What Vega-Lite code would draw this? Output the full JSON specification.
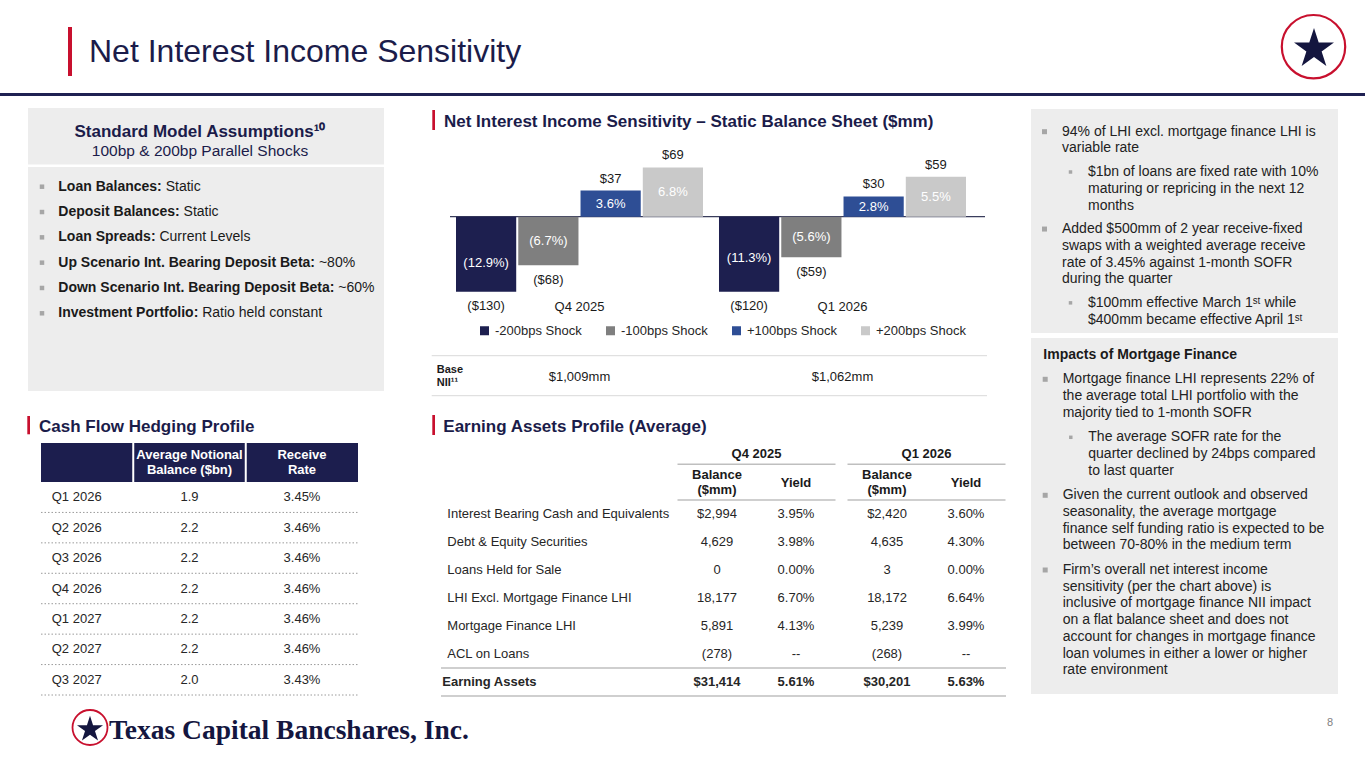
{
  "$schema": "https://vega.github.io/schema/vega-lite/v6.json",
  "width": 1365,
  "height": 768,
  "autosize": {"type": "none"},
  "padding": 0,
  "background": "#ffffff",
  "config": {"view": {"stroke": null}, "font": "Liberation Sans"},
  "datasets": {
    "bars": [
      {"quarter": "Q4 2025", "shock": "-200bps Shock", "nii": -130, "pct": -0.129},
      {"quarter": "Q4 2025", "shock": "-100bps Shock", "nii": -68, "pct": -0.067},
      {"quarter": "Q4 2025", "shock": "+100bps Shock", "nii": 37, "pct": 0.036},
      {"quarter": "Q4 2025", "shock": "+200bps Shock", "nii": 69, "pct": 0.068},
      {"quarter": "Q1 2026", "shock": "-200bps Shock", "nii": -120, "pct": -0.113},
      {"quarter": "Q1 2026", "shock": "-100bps Shock", "nii": -59, "pct": -0.056},
      {"quarter": "Q1 2026", "shock": "+100bps Shock", "nii": 30, "pct": 0.028},
      {"quarter": "Q1 2026", "shock": "+200bps Shock", "nii": 59, "pct": 0.055}
    ],
    "baseNII": [
      {"quarter": "Q4 2025", "base": 1009},
      {"quarter": "Q1 2026", "base": 1062}
    ],
    "cashflow": [
      {"quarter": "Q1 2026", "notional": 1.9, "rate": 0.0345},
      {"quarter": "Q2 2026", "notional": 2.2, "rate": 0.0346},
      {"quarter": "Q3 2026", "notional": 2.2, "rate": 0.0346},
      {"quarter": "Q4 2026", "notional": 2.2, "rate": 0.0346},
      {"quarter": "Q1 2027", "notional": 2.2, "rate": 0.0346},
      {"quarter": "Q2 2027", "notional": 2.2, "rate": 0.0346},
      {"quarter": "Q3 2027", "notional": 2.0, "rate": 0.0343}
    ],
    "cfHeader": [
      {"col": "Average Notional Balance ($bn)", "lines": ["Average Notional", "Balance ($bn)"]},
      {"col": "Receive Rate", "lines": ["Receive", "Rate"]}
    ],
    "earning": [
      {"item": "Interest Bearing Cash and Equivalents", "quarter": "Q4 2025", "balance": 2994, "yield": 0.0395},
      {"item": "Debt & Equity Securities", "quarter": "Q4 2025", "balance": 4629, "yield": 0.0398},
      {"item": "Loans Held for Sale", "quarter": "Q4 2025", "balance": 0, "yield": 0.0},
      {"item": "LHI Excl. Mortgage Finance LHI", "quarter": "Q4 2025", "balance": 18177, "yield": 0.067},
      {"item": "Mortgage Finance LHI", "quarter": "Q4 2025", "balance": 5891, "yield": 0.0413},
      {"item": "ACL on Loans", "quarter": "Q4 2025", "balance": -278, "yield": null},
      {"item": "Earning Assets", "quarter": "Q4 2025", "balance": 31414, "yield": 0.0561},
      {"item": "Interest Bearing Cash and Equivalents", "quarter": "Q1 2026", "balance": 2420, "yield": 0.036},
      {"item": "Debt & Equity Securities", "quarter": "Q1 2026", "balance": 4635, "yield": 0.043},
      {"item": "Loans Held for Sale", "quarter": "Q1 2026", "balance": 3, "yield": 0.0},
      {"item": "LHI Excl. Mortgage Finance LHI", "quarter": "Q1 2026", "balance": 18172, "yield": 0.0664},
      {"item": "Mortgage Finance LHI", "quarter": "Q1 2026", "balance": 5239, "yield": 0.0399},
      {"item": "ACL on Loans", "quarter": "Q1 2026", "balance": -268, "yield": null},
      {"item": "Earning Assets", "quarter": "Q1 2026", "balance": 30201, "yield": 0.0563}
    ],
    "assumptions": [
      {"label": "Loan Balances:", "value": "Static"},
      {"label": "Deposit Balances:", "value": "Static"},
      {"label": "Loan Spreads:", "value": "Current Levels"},
      {"label": "Up Scenario Int. Bearing Deposit Beta:", "value": "~80%"},
      {"label": "Down Scenario Int. Bearing Deposit Beta:", "value": "~60%"},
      {"label": "Investment Portfolio:", "value": "Ratio held constant"}
    ],
    "notes": [
      {"panel": "top", "line": 0, "para": 0, "level": 0, "text": "94% of LHI excl. mortgage finance LHI is"},
      {"panel": "top", "line": 1, "para": 0, "level": 0, "text": "variable rate"},
      {"panel": "top", "line": 2, "para": 1, "level": 1, "text": "$1bn of loans are fixed rate with 10%"},
      {"panel": "top", "line": 3, "para": 1, "level": 1, "text": "maturing or repricing in the next 12"},
      {"panel": "top", "line": 4, "para": 1, "level": 1, "text": "months"},
      {"panel": "top", "line": 5, "para": 2, "level": 0, "text": "Added $500mm of 2 year receive-fixed"},
      {"panel": "top", "line": 6, "para": 2, "level": 0, "text": "swaps with a weighted average receive"},
      {"panel": "top", "line": 7, "para": 2, "level": 0, "text": "rate of 3.45% against 1-month SOFR"},
      {"panel": "top", "line": 8, "para": 2, "level": 0, "text": "during the quarter"},
      {"panel": "top", "line": 9, "para": 3, "level": 1, "text": "$100mm effective March 1ˢᵗ while"},
      {"panel": "top", "line": 10, "para": 3, "level": 1, "text": "$400mm became effective April 1ˢᵗ"},
      {"panel": "bottom", "line": 0, "para": 0, "level": 0, "text": "Mortgage finance LHI represents 22% of"},
      {"panel": "bottom", "line": 1, "para": 0, "level": 0, "text": "the average total LHI portfolio with the"},
      {"panel": "bottom", "line": 2, "para": 0, "level": 0, "text": "majority tied to 1-month SOFR"},
      {"panel": "bottom", "line": 3, "para": 1, "level": 1, "text": "The average SOFR rate for the"},
      {"panel": "bottom", "line": 4, "para": 1, "level": 1, "text": "quarter declined by 24bps compared"},
      {"panel": "bottom", "line": 5, "para": 1, "level": 1, "text": "to last quarter"},
      {"panel": "bottom", "line": 6, "para": 2, "level": 0, "text": "Given the current outlook and observed"},
      {"panel": "bottom", "line": 7, "para": 2, "level": 0, "text": "seasonality, the average mortgage"},
      {"panel": "bottom", "line": 8, "para": 2, "level": 0, "text": "finance self funding ratio is expected to be"},
      {"panel": "bottom", "line": 9, "para": 2, "level": 0, "text": "between 70-80% in the medium term"},
      {"panel": "bottom", "line": 10, "para": 3, "level": 0, "text": "Firm’s overall net interest income"},
      {"panel": "bottom", "line": 11, "para": 3, "level": 0, "text": "sensitivity (per the chart above) is"},
      {"panel": "bottom", "line": 12, "para": 3, "level": 0, "text": "inclusive of mortgage finance NII impact"},
      {"panel": "bottom", "line": 13, "para": 3, "level": 0, "text": "on a flat balance sheet and does not"},
      {"panel": "bottom", "line": 14, "para": 3, "level": 0, "text": "account for changes in mortgage finance"},
      {"panel": "bottom", "line": 15, "para": 3, "level": 0, "text": "loan volumes in either a lower or higher"},
      {"panel": "bottom", "line": 16, "para": 3, "level": 0, "text": "rate environment"}
    ]
  },
  "resolve": {"scale": {"x": "independent", "y": "independent", "xOffset": "independent", "yOffset": "independent", "color": "independent", "size": "independent"}},
  "layer": [
    {"data": {"values": [{}]}, "mark": {"type": "rect", "color": "#c8102e"}, "encoding": {"x": {"value": 68}, "x2": {"value": 72}, "y": {"value": 27}, "y2": {"value": 76}}},
    {"data": {"values": [{"t": "Net Interest Income Sensitivity"}]}, "mark": {"type": "text", "align": "left", "baseline": "alphabetic", "fontSize": 32, "color": "#1b1c4a"}, "encoding": {"text": {"field": "t"}, "x": {"value": 89}, "y": {"value": 62}}},
    {"data": {"values": [{}]}, "mark": {"type": "rect", "color": "#1f2152"}, "encoding": {"x": {"value": 0}, "x2": {"value": 1365}, "y": {"value": 93}, "y2": {"value": 96}}},
    {"data": {"values": [{}]}, "mark": {"type": "point", "shape": "circle", "filled": false, "stroke": "#c8102e", "strokeWidth": 2.2, "size": 4020, "opacity": 1}, "encoding": {"x": {"value": 1313.5}, "y": {"value": 46.7}}},
    {"data": {"values": [{}]}, "mark": {"type": "point", "shape": "M0,-1L0.2245,-0.309L0.951,-0.309L0.363,0.118L0.588,0.809L0,0.382L-0.588,0.809L-0.363,0.118L-0.951,-0.309L-0.2245,-0.309Z", "filled": true, "color": "#14163f", "size": 1764, "opacity": 1}, "encoding": {"x": {"value": 1314}, "y": {"value": 49}}},

    {"data": {"values": [{}]}, "mark": {"type": "rect", "color": "#ededed"}, "encoding": {"x": {"value": 28}, "x2": {"value": 384}, "y": {"value": 108}, "y2": {"value": 164.5}}},
    {"data": {"values": [{}]}, "mark": {"type": "rect", "color": "#ededed"}, "encoding": {"x": {"value": 28}, "x2": {"value": 384}, "y": {"value": 167}, "y2": {"value": 391}}},
    {"data": {"values": [{}]}, "mark": {"type": "rect", "color": "#ededed"}, "encoding": {"x": {"value": 1031}, "x2": {"value": 1338}, "y": {"value": 109}, "y2": {"value": 333}}},
    {"data": {"values": [{}]}, "mark": {"type": "rect", "color": "#ededed"}, "encoding": {"x": {"value": 1031}, "x2": {"value": 1338}, "y": {"value": 338}, "y2": {"value": 694}}},

    {"data": {"values": [{"t": "Standard Model Assumptions¹⁰"}]}, "mark": {"type": "text", "align": "center", "baseline": "alphabetic", "fontSize": 17, "fontWeight": "bold", "color": "#1b1c4a"}, "encoding": {"text": {"field": "t"}, "x": {"value": 200}, "y": {"value": 136.7}}},
    {"data": {"values": [{"t": "100bp & 200bp Parallel Shocks"}]}, "mark": {"type": "text", "align": "center", "baseline": "alphabetic", "fontSize": 15.5, "color": "#1b1c4a"}, "encoding": {"text": {"field": "t"}, "x": {"value": 200}, "y": {"value": 156}}},
    {
      "data": {"name": "assumptions"},
      "encoding": {"y": {"field": "label", "type": "nominal", "axis": null, "sort": null, "scale": {"type": "point", "domain": ["Loan Balances:", "Deposit Balances:", "Loan Spreads:", "Up Scenario Int. Bearing Deposit Beta:", "Down Scenario Int. Bearing Deposit Beta:", "Investment Portfolio:"], "range": [186.7, 313.3], "padding": 0}}},
      "layer": [
        {"mark": {"type": "point", "shape": "square", "filled": true, "color": "#a6a6a6", "size": 20, "opacity": 1}, "encoding": {"x": {"value": 42}}},
        {"mark": {"type": "text", "align": "left", "baseline": "middle", "fontSize": 14, "fontWeight": "bold", "color": "#1a1a1a"}, "encoding": {"x": {"value": 58.3}, "text": {"field": "label"}}},
        {"mark": {"type": "text", "align": "left", "baseline": "middle", "fontSize": 14, "color": "#1a1a1a",
          "dx": {"expr": "3.9 + 0.014*(611*length(datum.label) - 333*length(replace(datum.label, regexp('[^ ijlI.,]','g'), '')) - 278*length(replace(datum.label, regexp('[^tf:()-]','g'), '')) - 222*length(replace(datum.label, regexp('[^r]','g'), '')) - 55*length(replace(datum.label, regexp('[^acekvsxyzJ0-9~$]','g'), '')) + 56*length(replace(datum.label, regexp('[^EPSVXY]','g'), '')) + 111*length(replace(datum.label, regexp('[^ABCDHKNRU]','g'), '')) + 167*length(replace(datum.label, regexp('[^GOQw]','g'), '')) + 222*length(replace(datum.label, regexp('[^M]','g'), '')) + 278*length(replace(datum.label, regexp('[^m%]','g'), '')))"}},
          "encoding": {"x": {"value": 58.3}, "text": {"field": "value"}}}
      ]
    },

    {"data": {"values": [{}]}, "mark": {"type": "rect", "color": "#c8102e"}, "encoding": {"x": {"value": 432.3}, "x2": {"value": 435}, "y": {"value": 110}, "y2": {"value": 130}}},
    {"data": {"values": [{"t": "Net Interest Income Sensitivity – Static Balance Sheet ($mm)"}]}, "mark": {"type": "text", "align": "left", "baseline": "alphabetic", "fontSize": 17, "fontWeight": "bold", "color": "#1b1c4a"}, "encoding": {"text": {"field": "t"}, "x": {"value": 444}, "y": {"value": 126.7}}},
    {"data": {"values": [{}]}, "mark": {"type": "rect", "color": "#c8102e"}, "encoding": {"x": {"value": 27.3}, "x2": {"value": 30}, "y": {"value": 416}, "y2": {"value": 434.3}}},
    {"data": {"values": [{"t": "Cash Flow Hedging Profile"}]}, "mark": {"type": "text", "align": "left", "baseline": "alphabetic", "fontSize": 17, "fontWeight": "bold", "color": "#1b1c4a"}, "encoding": {"text": {"field": "t"}, "x": {"value": 39}, "y": {"value": 431.7}}},
    {"data": {"values": [{}]}, "mark": {"type": "rect", "color": "#c8102e"}, "encoding": {"x": {"value": 432.3}, "x2": {"value": 435}, "y": {"value": 415}, "y2": {"value": 435}}},
    {"data": {"values": [{"t": "Earning Assets Profile (Average)"}]}, "mark": {"type": "text", "align": "left", "baseline": "alphabetic", "fontSize": 17, "fontWeight": "bold", "color": "#1b1c4a"}, "encoding": {"text": {"field": "t"}, "x": {"value": 443.3}, "y": {"value": 431.7}}},

    {
      "data": {"name": "bars"},
      "encoding": {
        "x": {"field": "quarter", "type": "nominal", "axis": null, "sort": null, "scale": {"type": "band", "domain": ["Q4 2025", "Q1 2026"], "range": [456, 966], "paddingInner": 0.0608, "paddingOuter": 0}}
      },
      "layer": [
        {"data": {"values": [{}]}, "mark": {"type": "rule", "color": "#3a3d5c", "strokeWidth": 1.2}, "encoding": {"x": {"value": 450}, "x2": {"value": 985}, "y": {"value": 216.7}}},
        {
          "mark": {"type": "bar"},
          "encoding": {
            "xOffset": {"field": "shock", "type": "nominal", "sort": null, "scale": {"type": "band", "domain": ["-200bps Shock", "-100bps Shock", "+100bps Shock", "+200bps Shock"], "paddingInner": 0.033, "paddingOuter": 0}},
            "y": {"field": "pct", "type": "quantitative", "axis": null, "scale": {"domain": [-0.1035, 0.069], "range": [291.7, 166.7], "clamp": true, "nice": false, "zero": false}},
            "color": {"field": "shock", "type": "nominal", "sort": null, "scale": {"domain": ["-200bps Shock", "-100bps Shock", "+100bps Shock", "+200bps Shock"], "range": ["#1d1f4f", "#7f7f7f", "#2e4e95", "#c9c9c9"]},
              "legend": {"orient": "none", "legendX": 478, "legendY": 324, "direction": "horizontal", "title": null, "symbolType": "square", "symbolSize": 81, "symbolStrokeWidth": 0, "labelFontSize": 13, "labelColor": "#262626", "columnPadding": 22, "labelOffset": 4}}
          }
        },
        {
          "transform": [{"filter": "datum.nii > 0"}],
          "mark": {"type": "text", "baseline": "middle", "dy": -12, "fontSize": 13, "color": "#1a1a1a"},
          "encoding": {
            "xOffset": {"field": "shock", "type": "nominal", "sort": null, "scale": {"type": "band", "domain": ["-200bps Shock", "-100bps Shock", "+100bps Shock", "+200bps Shock"], "paddingInner": 0.033, "paddingOuter": 0}},
            "y": {"field": "pct", "type": "quantitative", "axis": null, "scale": {"domain": [-0.1035, 0.069], "range": [291.7, 166.7], "clamp": true, "nice": false, "zero": false}},
            "text": {"field": "nii", "type": "quantitative", "format": "($.0f"}
          }
        },
        {
          "transform": [{"filter": "datum.nii < 0"}],
          "mark": {"type": "text", "baseline": "middle", "dy": 14.5, "fontSize": 13, "color": "#1a1a1a"},
          "encoding": {
            "xOffset": {"field": "shock", "type": "nominal", "sort": null, "scale": {"type": "band", "domain": ["-200bps Shock", "-100bps Shock", "+100bps Shock", "+200bps Shock"], "paddingInner": 0.033, "paddingOuter": 0}},
            "y": {"field": "pct", "type": "quantitative", "axis": null, "scale": {"domain": [-0.1035, 0.069], "range": [291.7, 166.7], "clamp": true, "nice": false, "zero": false}},
            "text": {"field": "nii", "type": "quantitative", "format": "($.0f"}
          }
        },
        {
          "transform": [{"filter": "datum.shock == '-200bps Shock'"}],
          "mark": {"type": "text", "baseline": "middle", "dy": 15, "fontSize": 13, "color": "#1a1a1a"},
          "encoding": {
            "y": {"field": "pct", "type": "quantitative", "axis": null, "scale": {"domain": [-0.1035, 0.069], "range": [291.7, 166.7], "clamp": true, "nice": false, "zero": false}},
            "text": {"field": "quarter"}
          }
        }
      ]
    },
    {
      "data": {"name": "bars"},
      "mark": {"type": "text", "baseline": "middle", "fontSize": 13, "color": "#ffffff"},
      "encoding": {
        "x": {"field": "quarter", "type": "nominal", "axis": null, "sort": null, "scale": {"type": "band", "domain": ["Q4 2025", "Q1 2026"], "range": [456, 966], "paddingInner": 0.0608, "paddingOuter": 0}},
        "xOffset": {"field": "shock", "type": "nominal", "sort": null, "scale": {"type": "band", "domain": ["-200bps Shock", "-100bps Shock", "+100bps Shock", "+200bps Shock"], "paddingInner": 0.033, "paddingOuter": 0}},
        "y": {"field": "pct", "type": "quantitative", "axis": null, "scale": {"domain": [-0.207, 0.138], "range": [291.7, 166.7], "nice": false, "zero": false}},
        "text": {"field": "pct", "type": "quantitative", "format": "(.1%"}
      }
    },

    {"data": {"values": [{}]}, "mark": {"type": "rule", "color": "#d9d9d9", "strokeWidth": 1}, "encoding": {"x": {"value": 431.7}, "x2": {"value": 987}, "y": {"value": 355.7}}},
    {"data": {"values": [{}]}, "mark": {"type": "rule", "color": "#d9d9d9", "strokeWidth": 1}, "encoding": {"x": {"value": 431.7}, "x2": {"value": 987}, "y": {"value": 395.7}}},
    {"data": {"values": [{"t": ["Base", "NII¹¹"]}]}, "mark": {"type": "text", "align": "left", "baseline": "middle", "fontSize": 11, "fontWeight": "bold", "lineHeight": 12.7, "color": "#1a1a1a"}, "encoding": {"text": {"field": "t"}, "x": {"value": 436.7}, "y": {"value": 370}}},
    {
      "data": {"name": "baseNII"},
      "mark": {"type": "text", "baseline": "middle", "fontSize": 13, "color": "#1a1a1a", "text": {"expr": "format(datum.base, '$,') + 'mm'"}},
      "encoding": {
        "x": {"field": "quarter", "type": "nominal", "axis": null, "sort": null, "scale": {"type": "band", "domain": ["Q4 2025", "Q1 2026"], "range": [456, 966], "paddingInner": 0.0608, "paddingOuter": 0}},
        "y": {"value": 377}
      }
    },

    {"data": {"values": [{}]}, "mark": {"type": "rect", "color": "#1c1e4e"}, "encoding": {"x": {"value": 41}, "x2": {"value": 358}, "y": {"value": 443}, "y2": {"value": 482}}},
    {
      "data": {"name": "cfHeader"},
      "encoding": {"x": {"field": "col", "type": "nominal", "axis": null, "sort": null, "scale": {"type": "band", "domain": ["Quarter", "Average Notional Balance ($bn)", "Receive Rate"], "range": [20.75, 358.25], "paddingInner": 0, "paddingOuter": 0}}},
      "layer": [
        {"mark": {"type": "rule", "color": "#ffffff", "strokeWidth": 2}, "encoding": {"x": {"field": "col", "type": "nominal", "bandPosition": 0}, "y": {"value": 443}, "y2": {"value": 482}}},
        {"mark": {"type": "text", "baseline": "middle", "fontSize": 13, "fontWeight": "bold", "lineHeight": 15, "color": "#ffffff"}, "encoding": {"text": {"field": "lines"}, "y": {"value": 455}}}
      ]
    },
    {
      "data": {"name": "cashflow"},
      "encoding": {"y": {"field": "quarter", "type": "nominal", "axis": null, "sort": null, "scale": {"type": "band", "domain": ["Q1 2026", "Q2 2026", "Q3 2026", "Q4 2026", "Q1 2027", "Q2 2027", "Q3 2027"], "range": [482, 695], "paddingInner": 0, "paddingOuter": 0}}},
      "layer": [
        {"mark": {"type": "rule", "color": "#9a9a9a", "strokeWidth": 1, "strokeDash": [1.5, 2]}, "encoding": {"y": {"field": "quarter", "type": "nominal", "bandPosition": 1}, "x": {"value": 41}, "x2": {"value": 358}}},
        {"mark": {"type": "text", "align": "left", "baseline": "middle", "fontSize": 13, "color": "#262626", "dx": 31},
          "encoding": {"x": {"datum": "Quarter", "type": "nominal", "bandPosition": 0, "axis": null, "scale": {"type": "band", "domain": ["Quarter", "Average Notional Balance ($bn)", "Receive Rate"], "range": [20.75, 358.25], "paddingInner": 0, "paddingOuter": 0}}, "text": {"field": "quarter"}}},
        {"mark": {"type": "text", "baseline": "middle", "fontSize": 13, "color": "#262626"},
          "encoding": {"x": {"datum": "Average Notional Balance ($bn)", "type": "nominal", "axis": null, "scale": {"type": "band", "domain": ["Quarter", "Average Notional Balance ($bn)", "Receive Rate"], "range": [20.75, 358.25], "paddingInner": 0, "paddingOuter": 0}}, "text": {"field": "notional", "type": "quantitative", "format": ".1f"}}},
        {"mark": {"type": "text", "baseline": "middle", "fontSize": 13, "color": "#262626"},
          "encoding": {"x": {"datum": "Receive Rate", "type": "nominal", "axis": null, "scale": {"type": "band", "domain": ["Quarter", "Average Notional Balance ($bn)", "Receive Rate"], "range": [20.75, 358.25], "paddingInner": 0, "paddingOuter": 0}}, "text": {"field": "rate", "type": "quantitative", "format": ".2%"}}}
      ]
    },

    {
      "data": {"name": "earning"},
      "transform": [{"fold": ["balance", "yield"], "as": ["metric", "value"]}],
      "encoding": {
        "y": {"field": "item", "type": "nominal", "axis": null, "sort": null, "scale": {"type": "band", "domain": ["Interest Bearing Cash and Equivalents", "Debt & Equity Securities", "Loans Held for Sale", "LHI Excl. Mortgage Finance LHI", "Mortgage Finance LHI", "ACL on Loans", "Earning Assets"], "range": [500, 696], "paddingInner": 0, "paddingOuter": 0}},
        "x": {"field": "quarter", "type": "nominal", "axis": null, "sort": null, "scale": {"type": "band", "domain": ["Q4 2025", "Q1 2026"], "range": [677.5, 1005.5], "paddingInner": 0.0706, "paddingOuter": 0}}
      },
      "layer": [
        {"mark": {"type": "rule", "color": "#bfbfbf", "strokeWidth": 1.5}, "transform": [{"filter": "datum.item == 'Earning Assets' && datum.metric == 'balance' && datum.quarter == 'Q4 2025'"}], "encoding": {"y": {"datum": "Earning Assets", "type": "nominal", "bandPosition": 0}, "x": {"value": 441}, "x2": {"value": 1006}}},
        {"mark": {"type": "rule", "color": "#bfbfbf", "strokeWidth": 1.5}, "transform": [{"filter": "datum.item == 'Earning Assets' && datum.metric == 'balance' && datum.quarter == 'Q4 2025'"}], "encoding": {"y": {"datum": "Earning Assets", "type": "nominal", "bandPosition": 1}, "x": {"value": 441}, "x2": {"value": 1006}}},
        {"mark": {"type": "rect", "color": "#bfbfbf"}, "transform": [{"filter": "datum.item == 'Earning Assets' && datum.metric == 'balance'"}], "encoding": {"y": {"value": 463.6}, "y2": {"value": 465.1}}},
        {"mark": {"type": "rect", "color": "#bfbfbf"}, "transform": [{"filter": "datum.item == 'Earning Assets' && datum.metric == 'balance'"}], "encoding": {"y": {"value": 499.3}, "y2": {"value": 500.8}}},
        {"mark": {"type": "text", "baseline": "middle", "fontSize": 13, "fontWeight": "bold", "color": "#1a1a1a"}, "transform": [{"filter": "datum.item == 'Earning Assets' && datum.metric == 'balance'"}], "encoding": {"text": {"field": "quarter"}, "y": {"value": 454}}},
        {"mark": {"type": "text", "baseline": "middle", "fontSize": 13, "fontWeight": "bold", "lineHeight": 15, "color": "#1a1a1a", "text": {"expr": "datum.metric == 'balance' ? ['Balance', '($mm)'] : 'Yield'"},
            "yOffset": {"expr": "datum.metric == 'balance' ? 0 : 7.7"}},
          "transform": [{"filter": "datum.item == 'Earning Assets'"}],
          "encoding": {"xOffset": {"field": "metric", "type": "nominal", "sort": null, "scale": {"type": "band", "domain": ["balance", "yield"], "paddingInner": 0, "paddingOuter": 0}}, "y": {"value": 475}}},
        {"mark": {"type": "text", "baseline": "middle", "fontSize": 13, "color": "#262626",
            "text": {"expr": "datum.metric == 'yield' ? (datum.value == null ? '--' : format(datum.value, '.2%')) : format(datum.value, (datum.item == 'Interest Bearing Cash and Equivalents' || datum.item == 'Earning Assets') ? '($,' : '(,')"},
            "fontWeight": {"expr": "datum.item == 'Earning Assets' ? 'bold' : 'normal'"}},
          "encoding": {"xOffset": {"field": "metric", "type": "nominal", "sort": null, "scale": {"type": "band", "domain": ["balance", "yield"], "paddingInner": 0, "paddingOuter": 0}}}},
        {"mark": {"type": "text", "align": "left", "baseline": "middle", "fontSize": 13, "color": "#262626",
            "fontWeight": {"expr": "datum.item == 'Earning Assets' ? 'bold' : 'normal'"},
            "dx": {"expr": "datum.item == 'Earning Assets' ? -5 : 0"}},
          "transform": [{"filter": "datum.metric == 'balance' && datum.quarter == 'Q4 2025'"}],
          "encoding": {"x": {"value": 447.3}, "text": {"field": "item"}}}
      ]
    },

    {
      "data": {"name": "notes"},
      "transform": [{"filter": "datum.panel == 'top'"}],
      "encoding": {
        "x": {"field": "level", "type": "quantitative", "axis": null, "scale": {"domain": [0, 1], "range": [1062, 1088], "nice": false, "zero": false}},
        "y": {"field": "line", "type": "quantitative", "axis": null, "scale": {"domain": [0, 10], "range": [131.7, 299.2], "nice": false, "zero": false}}
      },
      "layer": [
        {"mark": {"type": "text", "align": "left", "baseline": "middle", "fontSize": 14, "color": "#222222", "yOffset": {"expr": "datum.para * 6.8"}}, "encoding": {"text": {"field": "text"}}},
        {"transform": [{"joinaggregate": [{"op": "min", "field": "line", "as": "firstLine"}], "groupby": ["para"]}, {"filter": "datum.line == datum.firstLine"}],
          "mark": {"type": "point", "shape": "square", "filled": true, "color": "#a6a6a6", "opacity": 1, "xOffset": -17.5, "yOffset": {"expr": "datum.para * 6.8"}},
          "encoding": {"size": {"field": "level", "type": "quantitative", "legend": null, "scale": {"domain": [0, 1], "range": [25, 12]}}}}
      ]
    },
    {"data": {"values": [{"t": "Impacts of Mortgage Finance"}]}, "mark": {"type": "text", "align": "left", "baseline": "middle", "fontSize": 14, "fontWeight": "bold", "color": "#1a1a1a"}, "encoding": {"text": {"field": "t"}, "x": {"value": 1043.3}, "y": {"value": 355}}},
    {
      "data": {"name": "notes"},
      "transform": [{"filter": "datum.panel == 'bottom'"}],
      "encoding": {
        "x": {"field": "level", "type": "quantitative", "axis": null, "scale": {"domain": [0, 1], "range": [1062.7, 1088.3], "nice": false, "zero": false}},
        "y": {"field": "line", "type": "quantitative", "axis": null, "scale": {"domain": [0, 16], "range": [379.3, 646.5], "nice": false, "zero": false}}
      },
      "layer": [
        {"mark": {"type": "text", "align": "left", "baseline": "middle", "fontSize": 14, "color": "#222222", "yOffset": {"expr": "datum.para * 7.9"}}, "encoding": {"text": {"field": "text"}}},
        {"transform": [{"joinaggregate": [{"op": "min", "field": "line", "as": "firstLine"}], "groupby": ["para"]}, {"filter": "datum.line == datum.firstLine"}],
          "mark": {"type": "point", "shape": "square", "filled": true, "color": "#a6a6a6", "opacity": 1, "xOffset": -17.5, "yOffset": {"expr": "datum.para * 7.9"}},
          "encoding": {"size": {"field": "level", "type": "quantitative", "legend": null, "scale": {"domain": [0, 1], "range": [25, 12]}}}}
      ]
    },

    {"data": {"values": [{}]}, "mark": {"type": "point", "shape": "circle", "filled": false, "stroke": "#c8102e", "strokeWidth": 1.8, "size": 1225, "opacity": 1}, "encoding": {"x": {"value": 90}, "y": {"value": 727.5}}},
    {"data": {"values": [{}]}, "mark": {"type": "point", "shape": "M0,-1L0.2245,-0.309L0.951,-0.309L0.363,0.118L0.588,0.809L0,0.382L-0.588,0.809L-0.363,0.118L-0.951,-0.309L-0.2245,-0.309Z", "filled": true, "color": "#14163f", "size": 750, "opacity": 1}, "encoding": {"x": {"value": 90}, "y": {"value": 729.4}}},
    {"data": {"values": [{"t": "Texas Capital Bancshares, Inc."}]}, "mark": {"type": "text", "align": "left", "baseline": "alphabetic", "font": "Liberation Serif", "fontSize": 27.5, "fontWeight": "bold", "color": "#14163f"}, "encoding": {"text": {"field": "t"}, "x": {"value": 109}, "y": {"value": 739}}},
    {"data": {"values": [{"t": "8"}]}, "mark": {"type": "text", "align": "center", "baseline": "middle", "fontSize": 11, "color": "#7f7f7f"}, "encoding": {"text": {"field": "t"}, "x": {"value": 1330}, "y": {"value": 723}}}
  ]
}
